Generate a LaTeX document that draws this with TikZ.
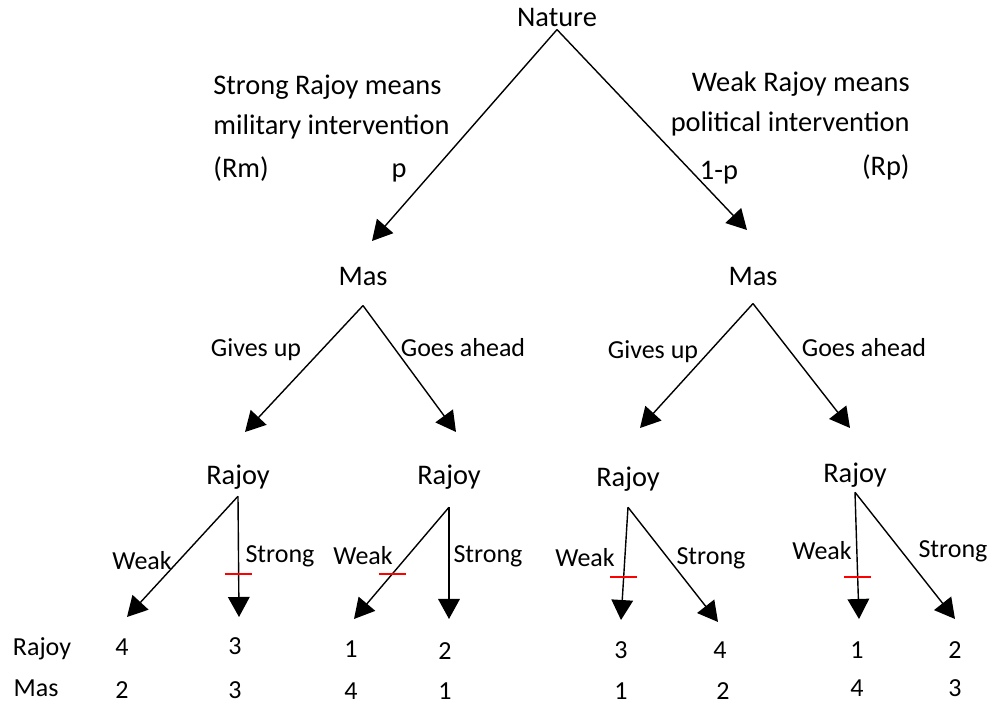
\documentclass[tikz,border=0pt]{standalone}
\usepackage{fontspec}
\setmainfont{Carlito}
\usetikzlibrary{arrows.meta}

\tikzset{
	player/.style={anchor=base, inner sep=0pt, font=\fontsize{14.2}{17}\selectfont},
	lbl/.style={anchor=base, inner sep=0pt, font=\fontsize{13}{16}\selectfont},
	move/.style={line width=0.7pt, -{Triangle[length=10pt,width=10.8pt]}},
	cut/.style={draw=red, line width=1pt},
}

\begin{document}
\begin{tikzpicture}[x=0.5pt,y=-0.5pt]
	\useasboundingbox (0,0) rectangle (992,704);

	\node[player] (nature) at (557,27) {Nature};
	\node[player,anchor=base west] (rm1) at (213,95) {Strong Rajoy means};
	\node[player,anchor=base west] (rm2) at (213,135) {military intervention};
	\node[player,anchor=base west] (rm3) at (213,178) {(Rm)};
	\node[player] (prob) at (399,178) {p};
	\node[player,anchor=base east] (rp1) at (910,92) {Weak Rajoy means};
	\node[player,anchor=base east] (rp2) at (910,132) {political intervention};
	\node[player,anchor=base east] (rp3) at (910,176) {(Rp)};
	\node[player] (qprob) at (719,180) {1-p};

	\node[player] (masL) at (363,286) {Mas};
	\node[player] (masR) at (753,286) {Mas};
	\coordinate (tipL) at (372,241);
	\coordinate (tipR) at (747,230);
	\draw[move] ([yshift=-1pt]nature.south) -- (tipL);
	\draw[move] ([yshift=-1pt]nature.south) -- (tipR);

	\node[lbl] (giveL) at (256,357) {Gives up};
	\node[lbl] (aheadL) at (463,357) {Goes ahead};
	\node[lbl] (giveR) at (653,359) {Gives up};
	\node[lbl] (aheadR) at (864,357) {Goes ahead};
	\coordinate (gL) at (245,432);
	\coordinate (aL) at (456,432);
	\coordinate (gR) at (640,428);
	\coordinate (aR) at (850,428);
	\draw[move] ([yshift=-9.5pt]masL.south) -- (gL);
	\draw[move] ([yshift=-9.5pt]masL.south) -- (aL);
	\draw[move] ([yshift=-8.5pt]masR.south) -- (gR);
	\draw[move] ([yshift=-8.5pt]masR.south) -- (aR);

	\node[player] (raj1) at (238,485) {Rajoy};
	\node[player] (raj2) at (449,485) {Rajoy};
	\node[player] (raj3) at (628,487) {Rajoy};
	\node[player] (raj4) at (855,483) {Rajoy};

	\node[lbl] (weak1) at (142,570) {Weak};
	\node[lbl] (strong1) at (280,563) {Strong};
	\node[lbl] (weak2) at (363,565) {Weak};
	\node[lbl] (strong2) at (488,563) {Strong};
	\node[lbl] (weak3) at (585,567) {Weak};
	\node[lbl] (strong3) at (711,565) {Strong};
	\node[lbl] (weak4) at (822,560) {Weak};
	\node[lbl] (strong4) at (953,558) {Strong};

	\coordinate (w1) at (127,617);
	\coordinate (s1) at (239,617);
	\coordinate (w2) at (354,619);
	\coordinate (s2) at (449,619);
	\coordinate (w3) at (621,620);
	\coordinate (s3) at (718,622);
	\coordinate (w4) at (859,619);
	\coordinate (s4) at (955,619);
	\draw[move] ([yshift=-3pt]raj1.south) -- (w1);
	\draw[move] ([yshift=-3pt]raj1.south) -- (s1) coordinate[pos=.64] (c1);
	\draw[move] ([yshift=-8.5pt]raj2.south) -- (w2) coordinate[pos=.595] (c2);
	\draw[move] ([yshift=-8.5pt]raj2.south) -- (s2);
	\draw[move] ([yshift=-7.5pt]raj3.south) -- (w3) coordinate[pos=.616] (c3);
	\draw[move] ([yshift=-7.5pt]raj3.south) -- (s3);
	\draw[move] ([yshift=-2pt]raj4.south) -- (w4) coordinate[pos=.667] (c4);
	\draw[move] ([yshift=-2pt]raj4.south) -- (s4);
	\draw[cut] ([xshift=-6.75pt]c1) -- ([xshift=6.75pt]c1);
	\draw[cut] ([xshift=-6.75pt]c2) -- ([xshift=6.75pt]c2);
	\draw[cut] ([xshift=-6.75pt]c3) -- ([xshift=6.75pt]c3);
	\draw[cut] ([xshift=-6.75pt]c4) -- ([xshift=6.75pt]c4);

	\node[lbl] (rowR) at (42,656) {Rajoy};
	\node[lbl] (rowM) at (36,697) {Mas};
	\node[lbl] (r1w) at (122,656) {4};
	\node[lbl] (r1s) at (235,655) {3};
	\node[lbl] (r2w) at (351,658) {1};
	\node[lbl] (r2s) at (445,660) {2};
	\node[lbl] (r3w) at (621,659) {3};
	\node[lbl] (r3s) at (720,659) {4};
	\node[lbl] (r4w) at (857,659) {1};
	\node[lbl] (r4s) at (955,659) {2};
	\node[lbl] (m1w) at (122,699) {2};
	\node[lbl] (m1s) at (235,699) {3};
	\node[lbl] (m2w) at (351,700) {4};
	\node[lbl] (m2s) at (445,700) {1};
	\node[lbl] (m3w) at (621,700) {1};
	\node[lbl] (m3s) at (723,700) {2};
	\node[lbl] (m4w) at (857,697) {4};
	\node[lbl] (m4s) at (955,697) {3};
\end{tikzpicture}
\end{document}
